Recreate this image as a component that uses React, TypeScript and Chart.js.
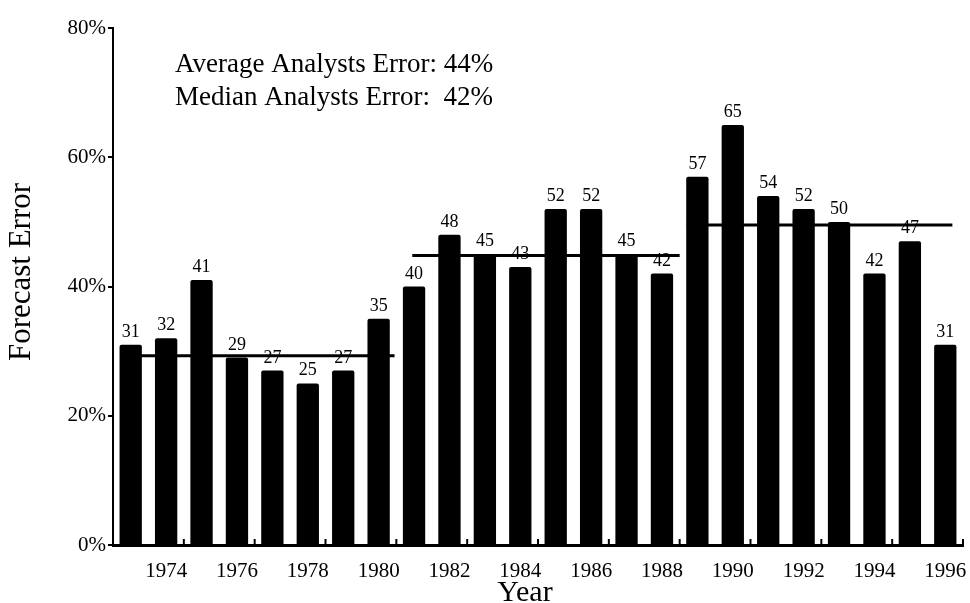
import React, { useEffect, useRef } from "react";
import { Chart, registerables } from "chart.js";

Chart.register(...registerables);

const years = ["1973","1974","1975","1976","1977","1978","1979","1980","1981","1982","1983","1984","1985","1986","1987","1988","1989","1990","1991","1992","1993","1994","1995","1996"];
const forecastErrors = [31, 32, 41, 29, 27, 25, 27, 35, 40, 48, 45, 43, 52, 52, 45, 42, 57, 65, 54, 52, 50, 42, 47, 31];
const shownYearLabels = ["1974","1976","1978","1980","1982","1984","1986","1988","1990","1992","1994","1996"];
const yTickValues = [0, 20, 40, 60, 80];

// period average lines: start year, end year, level (%)
const periodStarts = [1972.7, 1980.95, 1988.7];
const periodEnds = [1980.45, 1988.5, 1996.2];
const periodLevels = [29.3, 44.8, 49.5];

const annotationLines = ["Average Analysts Error: 44%", "Median Analysts Error:  42%"];
const yTitle = "Forecast Error";
const xTitle = "Year";

const FONT = "'Liberation Serif', 'Times New Roman', serif";

const overlayPlugin = {
  id: "overlay",
  afterDatasetsDraw(chart: any) {
    const ctx = chart.ctx;
    const area = chart.chartArea;
    const xl = chart.scales.xl;
    ctx.save();
    // value labels above bars
    const meta = chart.getDatasetMeta(0);
    ctx.fillStyle = "#000";
    ctx.font = `18px ${FONT}`;
    ctx.textAlign = "center";
    ctx.textBaseline = "alphabetic";
    meta.data.forEach((bar: any, i: number) => {
      ctx.fillText(String(forecastErrors[i]), bar.x, bar.y - 8);
    });
    // upward tick marks on x axis after each even year
    ctx.strokeStyle = "#000";
    ctx.lineWidth = 2;
    years.forEach((y) => {
      if (shownYearLabels.includes(y)) {
        const px = xl.getPixelForValue(Number(y) + 0.5);
        ctx.beginPath();
        ctx.moveTo(px, area.bottom);
        ctx.lineTo(px, area.bottom - 6);
        ctx.stroke();
      }
    });
    // annotation text
    ctx.textAlign = "left";
    ctx.font = `27px ${FONT}`;
    ctx.fillText(annotationLines[0], area.left + 62, area.top + 44);
    ctx.fillText(annotationLines[1], area.left + 62, area.top + 77);
    // y title
    ctx.save();
    ctx.translate(22, 272);
    ctx.rotate(-Math.PI / 2);
    ctx.textAlign = "center";
    ctx.textBaseline = "middle";
    ctx.font = `31px ${FONT}`;
    ctx.fillText(yTitle, 0, 0);
    ctx.restore();
    // x title
    ctx.textAlign = "center";
    ctx.textBaseline = "alphabetic";
    ctx.font = `30px ${FONT}`;
    ctx.fillText(xTitle, 525, 601);
    ctx.restore();
  },
};

export default function App() {
  const ref = useRef<HTMLCanvasElement | null>(null);
  useEffect(() => {
    if (!ref.current) return;
    const lineSets = periodLevels.map((lvl, k) => ({
      type: "line" as const,
      xAxisID: "xl",
      yAxisID: "y",
      data: [
        { x: periodStarts[k], y: lvl },
        { x: periodEnds[k], y: lvl },
      ],
      borderColor: "#000",
      borderWidth: 3,
      pointRadius: 0,
      fill: false,
    }));
    const chart = new Chart(ref.current, {
      type: "bar",
      data: {
        labels: years,
        datasets: [
          {
            type: "bar" as const,
            data: forecastErrors,
            backgroundColor: "#000",
            borderWidth: 0,
            borderRadius: 2,
            barPercentage: 0.63,
            categoryPercentage: 1,
            grouped: false,
            xAxisID: "x",
            yAxisID: "y",
          } as any,
          ...lineSets,
        ],
      },
      options: {
        animation: false,
        responsive: false,
        devicePixelRatio: 1,
        layout: { padding: { left: 0, right: 7, top: 28, bottom: 0 } },
        plugins: { legend: { display: false }, tooltip: { enabled: false } },
        scales: {
          x: {
            type: "category",
            offset: true,
            grid: { display: false, drawTicks: false },
            border: { display: true, color: "#000", width: 3 },
            ticks: {
              autoSkip: false,
              maxRotation: 0,
              color: "#000",
              padding: 14,
              font: { family: FONT, size: 21 },
              callback: (_v: any, i: number) => (shownYearLabels.includes(years[i]) ? years[i] : ""),
            },
            afterFit: (s: any) => { s.height = 58; s.paddingLeft = 0; s.paddingRight = 0; },
          },
          xl: {
            type: "linear",
            display: false,
            offset: false,
            grid: { offset: false },
            min: 1972.5,
            max: 1996.5,
          },
          y: {
            type: "linear",
            min: 0,
            max: 80,
            afterBuildTicks: (s: any) => { s.ticks = yTickValues.map((v) => ({ value: v })); },
            grid: { drawOnChartArea: false, drawTicks: true, tickLength: 5, color: "#000", lineWidth: 2 },
            border: { display: true, color: "#000", width: 2 },
            ticks: {
              color: "#000",
              padding: 2,
              font: { family: FONT, size: 21 },
              callback: (v: any) => `${v}%`,
            },
            afterFit: (s: any) => { s.width = 113; },
          },
        },
      } as any,
      plugins: [overlayPlugin],
    });
    return () => chart.destroy();
  }, []);
  return (
    <div style={{ position: "fixed", left: 0, top: 0, width: 970, height: 603, background: "#fff" }}>
      <canvas ref={ref} width={970} height={603} style={{ width: 970, height: 603 }} />
    </div>
  );
}
